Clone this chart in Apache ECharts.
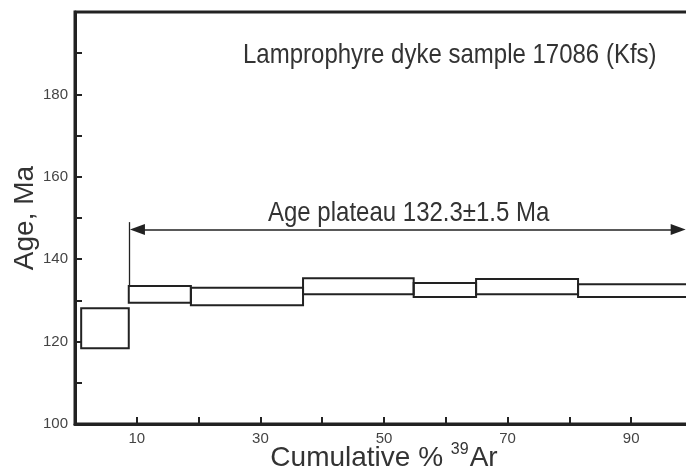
<!DOCTYPE html>
<html>
<head>
<meta charset="utf-8">
<script src="https://cdn.jsdelivr.net/npm/echarts@6/dist/echarts.min.js"></script>
<style>
  html, body { margin: 0; padding: 0; background: #fff; }
  #chart { width: 686px; height: 476px; }
</style>
</head>
<body>
<div id="chart"></div>
<script>
// step spectrum, cumulative % 39Ar vs apparent age (Ma)
const stepStart = [1.0, 8.7, 18.75, 36.9, 54.8, 64.9, 81.4];
const stepEnd = [8.7, 18.75, 36.9, 54.8, 64.9, 81.4, 100];
const ageLow = [118.4, 129.4, 128.8, 131.5, 130.8, 131.5, 130.8];
const ageHigh = [128.1, 133.5, 133.1, 135.4, 134.2, 135.2, 133.9];

// plateau arrow + marker
const plateauArrowX = [10.1, 97.6];
const plateauAge = 147.2;
const plateauMarkerX = 8.7;
const plateauMarkerAge = [149, 133.5];

const xLabelTicks = [10, 30, 50, 70, 90];
const yLabelTicks = [100, 120, 140, 160, 180];

const FONT = 'Liberation Sans, Arial, sans-serif';
const INK = '#222';

const boxes = stepStart.map((s, i) => [s, stepEnd[i], ageLow[i], ageHigh[i]]);

var chart = echarts.init(document.getElementById('chart'));

chart.setOption({
    animation: false,
    grid: {
        left: 75, top: 12, right: -7, bottom: 52,
        outerBoundsMode: 'none', containLabel: false,
        show: true, borderColor: INK, borderWidth: 3
    },
    xAxis: {
        type: 'value', min: 0, max: 100, interval: 10,
        axisLine: { lineStyle: { color: INK, width: 3 } },
        axisTick: { inside: true, length: 7, lineStyle: { color: INK, width: 2 } },
        splitLine: { show: false },
        axisLabel: {
            margin: 7, fontFamily: FONT, fontSize: 15, color: '#444',
            formatter: v => xLabelTicks.indexOf(v) >= 0 ? String(v) : ''
        },
        name: '{a|Cumulative % }{s|39}{a|Ar}',
        nameLocation: 'middle', nameGap: 18, nameMoveOverlap: false,
        nameTextStyle: {
            rich: {
                a: { fontFamily: FONT, fontSize: 28, color: '#333', lineHeight: 30 },
                s: { fontFamily: FONT, fontSize: 16, color: '#333', padding: [0, 1, 16, 0] }
            }
        }
    },
    yAxis: {
        type: 'value', min: 100, max: 200, interval: 10,
        axisLine: { lineStyle: { color: INK, width: 3 } },
        axisTick: { inside: true, length: 7, lineStyle: { color: INK, width: 2 } },
        splitLine: { show: false },
        axisLabel: {
            margin: 7, fontFamily: FONT, fontSize: 15, color: '#444',
            formatter: v => yLabelTicks.indexOf(v) >= 0 ? String(v) : ''
        },
        name: 'Age, Ma',
        nameLocation: 'middle', nameGap: 36, nameMoveOverlap: false,
        nameTextStyle: { fontFamily: FONT, fontSize: 28, color: '#333' }
    },
    graphic: [
        {
            type: 'text', x: 243, y: 41, scaleY: 1.17,
            style: { text: 'Lamprophyre dyke sample 17086 (Kfs)', font: '24px ' + FONT, fill: '#333' }
        },
        {
            type: 'text', x: 268, y: 199, scaleY: 1.17,
            style: { text: 'Age plateau 132.3±1.5 Ma', font: '24px ' + FONT, fill: '#333' }
        }
    ],
    series: [{
        type: 'custom',
        data: boxes,
        encode: { x: [0, 1], y: [2, 3] },
        renderItem: function (params, api) {
            const a = api.coord([api.value(0), api.value(3)]);
            const b = api.coord([api.value(1), api.value(2)]);
            return {
                type: 'rect',
                shape: { x: a[0], y: a[1], width: b[0] - a[0], height: b[1] - a[1] },
                style: { fill: 'none', stroke: INK, lineWidth: 2 }
            };
        },
        markLine: {
            silent: true,
            animation: false,
            label: { show: false },
            lineStyle: { color: INK, width: 1.5, type: 'solid' },
            symbol: ['triangle', 'triangle'],
            symbolSize: [11, 15],
            data: [
                [{ coord: [plateauArrowX[0], plateauAge] }, { coord: [plateauArrowX[1], plateauAge] }],
                [
                    { coord: [plateauMarkerX, plateauMarkerAge[0]], symbol: 'none', lineStyle: { width: 1.3 } },
                    { coord: [plateauMarkerX, plateauMarkerAge[1]], symbol: 'none' }
                ]
            ]
        }
    }]
});
</script>
</body>
</html>
